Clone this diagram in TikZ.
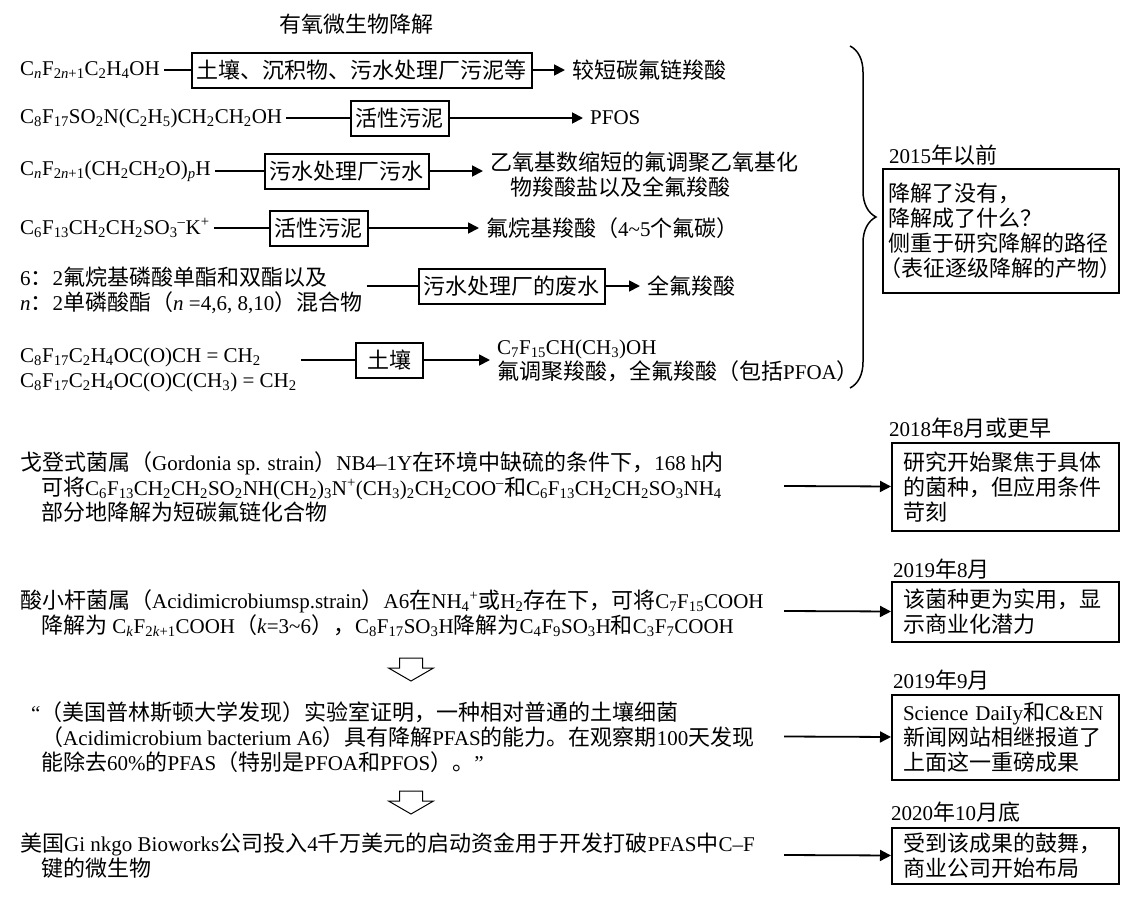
\documentclass[tikz,border=0pt]{standalone}
\usepackage{fontspec}
\setmainfont[Scale=0.955]{Liberation Serif}
\newfontfamily\cjkfont{Noto Sans CJK SC}
\usetikzlibrary{arrows.meta,decorations.pathreplacing}
% Chinese characters and full-width punctuation go to the CJK font
\XeTeXinterchartokenstate=1
\newXeTeXintercharclass\CJKclass
\newcount\cjkcnt
\newcommand\cjkrange[2]{\cjkcnt=#1\relax
  \loop\XeTeXcharclass\cjkcnt=\CJKclass
  \ifnum\cjkcnt<#2\advance\cjkcnt by 1\repeat}
\cjkrange{"3000}{"303F}
\cjkrange{"4E00}{"9FFF}
\cjkrange{"FF00}{"FFEF}
\XeTeXcharclass"201C=0 \XeTeXcharclass"201D=0
\XeTeXcharclass"2013=0 \XeTeXcharclass"2014=0
\XeTeXinterchartoks 0 \CJKclass = {\cjkfont}
\XeTeXinterchartoks 4095 \CJKclass = {\cjkfont}
\XeTeXinterchartoks \CJKclass 0 = {\rmfamily}
\XeTeXinterchartoks \CJKclass 4095 = {\rmfamily}
\newcommand\csub[1]{\textsubscript{#1}}
\newcommand\csup[1]{\textsuperscript{#1}}
\begin{document}
\begin{tikzpicture}[x=1pt, y=-1pt,
  every node/.style={font=\fontsize{22}{25}\selectfont},
  stage/.style={draw, line width=2pt, inner xsep=5pt, inner ysep=0pt, minimum height=35pt},
  chem/.style={anchor=west, inner sep=4pt, align=left},
  prod/.style={anchor=west, inner xsep=7pt, align=left},
  note/.style={draw, line width=2pt, anchor=north west, align=left, text width=205pt, inner xsep=11pt, inner ysep=0pt},
  yearlabel/.style={anchor=west, inner sep=0pt},
  link/.style={line width=1.8pt},
  push/.style={line width=1.8pt, -{Triangle[length=11pt,width=11pt]}},
  hollowdown/.pic={\draw[line width=1pt] (-11.5,0) -- (11.5,0) -- (11.5,10) -- (22.5,10) -- (0,23) -- (-22.5,10) -- (-11.5,10) -- cycle;}]
\useasboundingbox (0,0) rectangle (1144,897);
\node (title) at (356,24) {有氧微生物降解};
\node[chem] (f1) at (16,70) {C\csub{\textit{n}}F\csub{2\textit{n}+1}C\csub{2}H\csub{4}OH};
\node[stage, minimum width=335pt] (b1) at (361.5,70) {土壤、沉积物、污水处理厂污泥等};
\node[prod] (p1) at (565,70) {较短碳氟链羧酸};
\node[chem] (f2) at (16,118) {C\csub{8}F\csub{17}SO\csub{2}N(C\csub{2}H\csub{5})CH\csub{2}CH\csub{2}OH};
\node[stage] (b2) at (399.5,118) {活性污泥};
\node[prod] (p2) at (583,118) {PFOS};
\node[chem] (f3) at (16,171) {C\csub{\textit{n}}F\csub{2\textit{n}+1}(CH\csub{2}CH\csub{2}O)\csub{\textit{p}}H};
\node[stage] (b3) at (346.5,171) {污水处理厂污水};
\node[prod] (p3) at (483,175) {乙氧基数缩短的氟调聚乙氧基化\\\hspace*{20pt}物羧酸盐以及全氟羧酸};
\node[chem] (f4) at (16,228) {C\csub{6}F\csub{13}CH\csub{2}CH\csub{2}SO\csub{3}\csup{--}K\csup{+}};
\node[stage] (b4) at (318.5,228) {活性污泥};
\node[prod] (p4) at (479,228) {氟烷基羧酸（4\textasciitilde5个氟碳）};
\node[chem] (f5) at (16,290) {6：2氟烷基磷酸单酯和双酯以及\\\textit{n}：2单磷酸酯（\textit{n} =4,6, 8,10）混合物};
\node[stage] (b5) at (511.5,286) {污水处理厂的废水};
\node[prod] (p5) at (640,286) {全氟羧酸};
\node[chem] (f6) at (16,370) {C\csub{8}F\csub{17}C\csub{2}H\csub{4}OC(O)CH = CH\csub{2}\\C\csub{8}F\csub{17}C\csub{2}H\csub{4}OC(O)C(CH\csub{3}) = CH\csub{2}};
\node[stage, minimum width=67pt] (b6) at (389.5,360) {土壤};
\node[prod] (p6) at (490,361) {C\csub{7}F\csub{15}CH(CH\csub{3})OH\\氟调聚羧酸，全氟羧酸（包括PFOA）};
\path[link] (b1 -| f1.east) edge (b1);
\path[link] (b2 -| f2.east) edge (b2);
\path[link] (b3 -| f3.east) edge (b3);
\path[link] (b4 -| f4.east) edge (b4);
\path[link] (b5 -| f5.east) edge (b5);
\path[link] (b6 -| f6.east) edge (b6);
\path[push] (b1) edge (b1 -| p1.west);
\path[push] (b2) edge (b2 -| p2.west);
\path[push] (b3) edge (b3 -| p3.west);
\path[push] (b4) edge (b4 -| p4.west);
\path[push] (b5) edge (b5 -| p5.west);
\path[push] (b6) edge (b6 -| p6.west);
\coordinate (bracetop) at (850,46);
\coordinate (bracebot) at (850,388);
\draw[line width=1.5pt, decorate, decoration={brace, amplitude=26pt}] (bracetop) -- (bracebot);
\node[yearlabel] (y2015) at (889,155) {2015年以前};
\node[note, text width=226pt, inner xsep=5pt, minimum height=124pt] (n2015) at (882,168) {降解了没有，\\降解成了什么？\\侧重于研究降解的路径\\\hspace*{-9pt}（表征逐级降解的产物）};
\node[chem] (t7) at (16,487) {戈登式菌属（Gordonia sp. strain）NB4–1Y在环境中缺硫的条件下，168 h内\\\hspace*{1em}可将C\csub{6}F\csub{13}CH\csub{2}CH\csub{2}SO\csub{2}NH(CH\csub{2})\csub{3}N\csup{+}(CH\csub{3})\csub{2}CH\csub{2}COO\csup{--}和C\csub{6}F\csub{13}CH\csub{2}CH\csub{2}SO\csub{3}NH\csub{4}\\\hspace*{1em}部分地降解为短碳氟链化合物};
\node[yearlabel] (y2018) at (889,428) {2018年8月或更早};
\node[note, minimum height=88pt] (n2018) at (891,442) {研究开始聚焦于具体\\的菌种，但应用条件\\苛刻};
\coordinate (s7) at (784,486);
\path[push] (s7) edge (n2018);
\node[chem] (t8) at (16,613) {酸小杆菌属（Acidimicrobiumsp.strain）A6在NH\csub{4}\csup{+}或H\csub{2}存在下，可将C\csub{7}F\csub{15}COOH\\\hspace*{1em}降解为 C\csub{\textit{k}}F\csub{2\textit{k}+1}COOH（\textit{k}=3\textasciitilde6），C\csub{8}F\csub{17}SO\csub{3}H降解为C\csub{4}F\csub{9}SO\csub{3}H和C\csub{3}F\csub{7}COOH};
\node[yearlabel] (y2019a) at (893,569) {2019年8月};
\node[note, minimum height=60pt] (n2019a) at (891,581) {该菌种更为实用，显\\示商业化潜力};
\coordinate (s8) at (784,611);
\path[push] (s8) edge (n2019a);
\pic (down1) at (411,658) {hollowdown};
\node[chem] (t9) at (16,737) {\hspace*{11pt}“（美国普林斯顿大学发现）实验室证明，一种相对普通的土壤细菌\\\hspace*{1em}（Acidimicrobium bacterium A6）具有降解PFAS的能力。在观察期100天发现\\\hspace*{1em}能除去60\%的PFAS（特别是PFOA和PFOS）。”};
\node[yearlabel] (y2019b) at (893,680) {2019年9月};
\node[note, minimum height=85pt] (n2019b) at (891,694) {Science DaiIy和C\&EN\\新闻网站相继报道了\\上面这一重磅成果};
\coordinate (s9) at (784,736.5);
\path[push] (s9) edge (n2019b);
\pic (down2) at (411,791) {hollowdown};
\node[chem] (t10) at (16,856) {美国Gi nkgo Bioworks公司投入4千万美元的启动资金用于开发打破PFAS中C–F\\\hspace*{1em}键的微生物};
\node[yearlabel] (y2020) at (891,812) {2020年10月底};
\node[note, minimum height=56pt] (n2020) at (891,827) {受到该成果的鼓舞，\\商业公司开始布局};
\coordinate (s10) at (784,855);
\path[push] (s10) edge (n2020);
\end{tikzpicture}
\end{document}
